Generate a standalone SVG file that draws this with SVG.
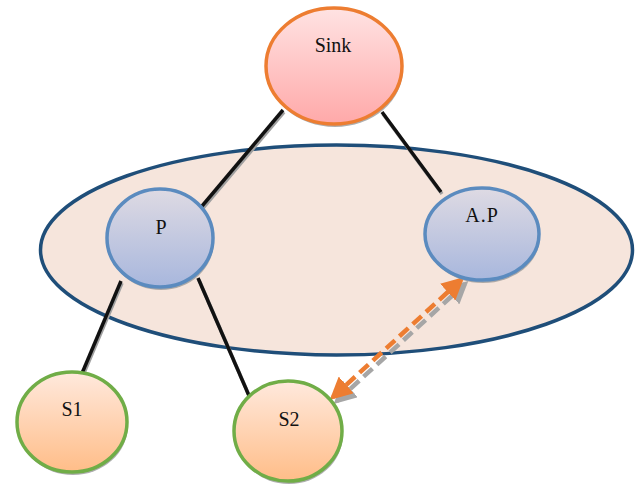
<svg xmlns="http://www.w3.org/2000/svg" width="643" height="486" viewBox="0 0 643 486">
  <defs>
    <linearGradient id="gSink" x1="0" y1="0" x2="0" y2="1">
      <stop offset="0" stop-color="#ffe3e3"/>
      <stop offset="1" stop-color="#ffa9a9"/>
    </linearGradient>
    <linearGradient id="gBlue" x1="0" y1="0" x2="0" y2="1">
      <stop offset="0" stop-color="#dedae3"/>
      <stop offset="1" stop-color="#a8b7dd"/>
    </linearGradient>
    <linearGradient id="gOrange" x1="0" y1="0" x2="0" y2="1">
      <stop offset="0" stop-color="#ffe9dd"/>
      <stop offset="1" stop-color="#ffbd88"/>
    </linearGradient>
    <marker id="ah" viewBox="0 0 10 10" refX="8" refY="5" markerWidth="5" markerHeight="5" orient="auto-start-reverse" markerUnits="strokeWidth">
      <path d="M0,0 L10,5 L0,10 Z" fill="#ed7d31"/>
    </marker>
    <marker id="ahs" viewBox="0 0 10 10" refX="8" refY="5" markerWidth="5" markerHeight="5" orient="auto-start-reverse" markerUnits="strokeWidth">
      <path d="M0,0 L10,5 L0,10 Z" fill="#a6a6a6"/>
    </marker>
  </defs>
  <style>
    .lbl { font-family: "Liberation Serif", "Times New Roman", serif; font-size: 20px; fill: #111; text-anchor: middle; }
    .shadow { fill: #9a9a9a; opacity: 0.8; }
    .link { stroke: #111; stroke-width: 3.5; fill: none; }
    .linkShadow { stroke: #a0a0a0; stroke-width: 3.5; fill: none; }
    .dash { stroke: #ed7d31; stroke-width: 4.5; stroke-dasharray: 12 6; fill: none; }
    .dashShadow { stroke: #a6a6a6; stroke-width: 4.5; stroke-dasharray: 12 6; fill: none; }
  </style>

  <g id="cluster">
    <ellipse cx="336.5" cy="250" rx="296" ry="105" fill="#f6e5dc" stroke="#1f4e79" stroke-width="3.5"/>
  </g>

  <g id="connectors">
    <line class="linkShadow" x1="284" y1="112" x2="198" y2="214"/>
    <line class="link" x1="283" y1="110" x2="197" y2="212"/>
    <line class="linkShadow" x1="383" y1="114" x2="442" y2="194"/>
    <line class="link" x1="382" y1="112" x2="441" y2="192"/>
    <line class="linkShadow" x1="122" y1="283" x2="81" y2="380"/>
    <line class="link" x1="121" y1="281" x2="80" y2="378"/>
    <line class="linkShadow" x1="199" y1="280" x2="251" y2="400"/>
    <line class="link" x1="198" y1="278" x2="250" y2="398"/>
    <line class="dashShadow" x1="337" y1="401" x2="465" y2="284" marker-start="url(#ahs)" marker-end="url(#ahs)"/>
    <line class="dash" x1="333" y1="397" x2="461" y2="280" marker-start="url(#ah)" marker-end="url(#ah)"/>
  </g>

  <g id="sink">
    <ellipse class="shadow" cx="335" cy="69" rx="68" ry="58"/>
    <ellipse cx="334" cy="66" rx="68" ry="58" fill="url(#gSink)" stroke="#ed7d31" stroke-width="3.5"/>
    <text class="lbl" x="333" y="52">Sink</text>
  </g>

  <g id="p">
    <ellipse class="shadow" cx="161" cy="241" rx="53" ry="49"/>
    <ellipse cx="160" cy="238" rx="53" ry="49" fill="url(#gBlue)" stroke="#5b8bbf" stroke-width="3.5"/>
    <text class="lbl" x="161" y="234">P</text>
  </g>

  <g id="ap">
    <ellipse class="shadow" cx="483" cy="237" rx="57" ry="46"/>
    <ellipse cx="482" cy="234" rx="57" ry="46" fill="url(#gBlue)" stroke="#5b8bbf" stroke-width="3.5"/>
    <text class="lbl" x="482" y="222" letter-spacing="1">A.P</text>
  </g>

  <g id="s1">
    <ellipse class="shadow" cx="73" cy="425" rx="55" ry="50"/>
    <ellipse cx="72" cy="422" rx="55" ry="50" fill="url(#gOrange)" stroke="#70ad47" stroke-width="3.5"/>
    <text class="lbl" x="72" y="416">S1</text>
  </g>

  <g id="s2">
    <ellipse class="shadow" cx="289" cy="434" rx="54" ry="50"/>
    <ellipse cx="288" cy="431" rx="54" ry="50" fill="url(#gOrange)" stroke="#70ad47" stroke-width="3.5"/>
    <text class="lbl" x="289" y="426">S2</text>
  </g>
</svg>
